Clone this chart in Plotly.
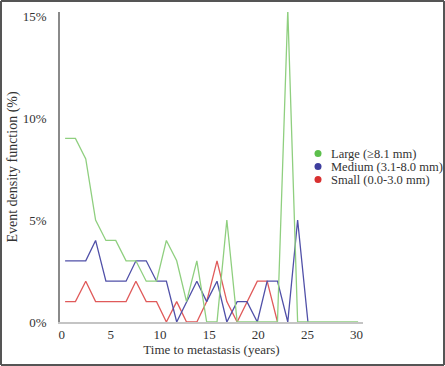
import plotly.graph_objects as go

# ---- data ----
years = [0.35, 1.4, 2.45, 3.45, 4.5, 5.5, 6.55, 7.55, 8.6, 9.65, 10.65, 11.7, 12.7,
         13.75, 14.75, 15.8, 16.8, 17.85, 18.85, 19.9, 20.9, 21.95, 23.0, 24.0,
         25.05, 26.05, 27.1, 28.1, 29.15, 30.15]
large = [9, 9, 8, 5, 4, 4, 3, 3, 2, 2, 4, 3, 1, 3, 0, 0, 5, 0, 0, 0, 0, 0, 15.3, 0,
         0, 0, 0, 0, 0, 0]
medium = [3, 3, 3, 4, 2, 2, 2, 3, 3, 2, 2, 0, 1, 2, 1, 2, 0, 1, 1, 0, 2, 2, 0, 5, 0]
small = [1, 1, 2, 1, 1, 1, 1, 2, 1, 1, 0, 1, 0, 0, 1, 3, 1, 0, 1, 2, 2, 0]

names = ["Large (\u22658.1 mm)", "Medium (3.1-8.0 mm)", "Small (0.0-3.0 mm)"]
y_ticks = [0, 5, 10, 15]
y_tick_text = ["0%", "5%", "10%", "15%"]
x_ticks = [0, 5, 10, 15, 20, 25, 30]

line_colors = ["#8fcf7f", "#5050a8", "#e05a5a"]
dot_colors = ["#5cbf4c", "#3e3e9e", "#d83030"]

font = "Liberation Serif"

W, H = 445, 366
L, R, T, B = 60, 82, 12, 44
pw, ph = W - L - R, H - T - B


def px_x(p):
    return (p - L) / pw


def px_y(p):
    return (H - B - p) / ph


fig = go.Figure()
for ys, col in [(small, line_colors[2]), (medium, line_colors[1]), (large, line_colors[0])]:
    fig.add_trace(go.Scatter(x=years[:len(ys)], y=ys, mode="lines",
                             line=dict(color=col, width=1.3),
                             showlegend=False, hoverinfo="skip", cliponaxis=False))

# custom legend (dots + text)
shapes = []
annotations = []
leg_x_dot, leg_x_text, leg_y0, leg_dy, r = 318, 330, 153.5, 13, 3.5
for i, (name, c) in enumerate(zip(names, dot_colors)):
    cy = leg_y0 + i * leg_dy
    shapes.append(dict(type="circle", xref="paper", yref="paper",
                       x0=px_x(leg_x_dot - r), x1=px_x(leg_x_dot + r),
                       y0=px_y(cy + r), y1=px_y(cy - r),
                       fillcolor=c, line=dict(width=0)))
    annotations.append(dict(text=name, xref="paper", yref="paper",
                            x=px_x(leg_x_text), y=px_y(cy), xanchor="left", yanchor="middle",
                            showarrow=False, borderpad=0,
                            font=dict(family=font, size=12.5, color="#333333")))

# outer frame of the picture (four edges)
fx0, fx1, fy0, fy1 = px_x(1), px_x(W - 1), px_y(H - 1), px_y(1)
for a, b, c, d in [(fx0, fy0, fx1, fy0), (fx0, fy1, fx1, fy1),
                   (fx0, fy0, fx0, fy1), (fx1, fy0, fx1, fy1)]:
    shapes.append(dict(type="line", xref="paper", yref="paper", x0=a, y0=b, x1=c, y1=d,
                       line=dict(color="#555555", width=2)))

fig.update_layout(
    width=W, height=H,
    margin=dict(l=L, r=R, t=T, b=B, pad=0, autoexpand=False),
    paper_bgcolor="white", plot_bgcolor="white",
    font=dict(family=font, size=13, color="#333333"),
    showlegend=False,
    xaxis=dict(range=[-0.17, 30.65], tickvals=x_ticks, showgrid=False, zeroline=False,
               showline=True, linecolor="#c4c4c4", linewidth=1.5, automargin=False,
               ticks="", tickfont=dict(size=13, family=font),
               title=dict(text="Time to metastasis (years)",
                          font=dict(size=13, family=font), standoff=0)),
    yaxis=dict(range=[0, 15.2], tickvals=y_ticks, ticktext=y_tick_text,
               showgrid=False, zeroline=False, showline=True, linecolor="#8a8a8a",
               linewidth=1.5, ticks="", ticklabelstandoff=9, automargin=False,
               tickfont=dict(size=13, family=font),
               title=dict(text="Event density function (%)",
                          font=dict(size=14, family=font), standoff=2)),
    shapes=shapes,
    annotations=annotations,
)

fig.write_html("out.html", config={"displayModeBar": False},
               post_script="document.body.style.margin='0px';")
